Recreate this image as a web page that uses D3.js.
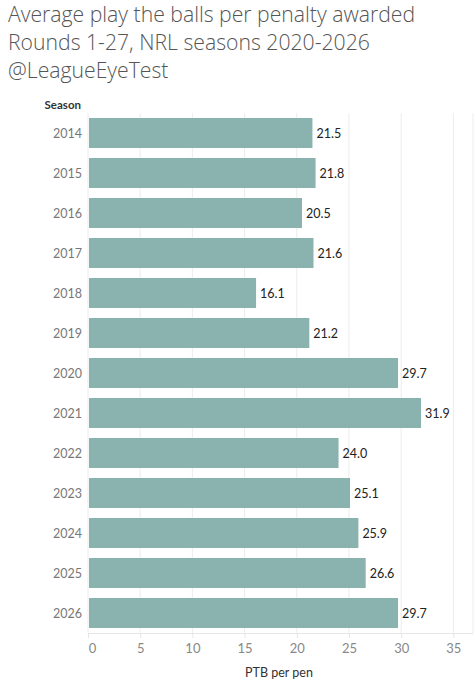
<!DOCTYPE html>
<html>
<head>
<meta charset="utf-8">
<script src="https://cdn.jsdelivr.net/npm/d3@7"></script>
<style>
  body { margin: 0; background: #fff; }
  svg { display: block; font-family: Lato, "Open Sans", sans-serif; }
</style>
</head>
<body>
<svg id="chart" width="475" height="693"></svg>
<script>
const titleLines = [
  'Average play the balls per penalty awarded',
  'Rounds 1-27, NRL seasons 2020-2026',
  '@LeagueEyeTest'
];
const seasons = ['2014', '2015', '2016', '2017', '2018', '2019', '2020',
  '2021', '2022', '2023', '2024', '2025', '2026'];
const ptbPerPen = [21.5, 21.8, 20.5, 21.6, 16.1, 21.2, 29.7,
  31.9, 24.0, 25.1, 25.9, 26.6, 29.7];
const xTicks = [0, 5, 10, 15, 20, 25, 30, 35];

const svg = d3.select('#chart');
const plotLeft = 88, plotRight = 473, plotTop = 113, plotBottom = 633;

svg.append('g')
  .selectAll('text')
  .data(titleLines)
  .join('text')
  .attr('x', 8)
  .attr('y', (d, i) => 22 + i * 28)
  .attr('font-family', '"Open Sans", sans-serif')
  .attr('font-weight', 300)
  .attr('font-size', 21.2)
  .attr('fill', '#555')
  .text(d => d);

const x = d3.scaleLinear().domain([0, 36.88]).range([plotLeft, plotRight]);
const y = d3.scaleBand().domain(seasons).range([plotTop, plotBottom]).paddingInner(0.25).paddingOuter(0.125);

// gridlines
svg.append('g')
  .selectAll('line')
  .data(xTicks.concat([36.88]))
  .join('line')
  .attr('x1', d => x(d)).attr('x2', d => x(d))
  .attr('y1', plotTop).attr('y2', plotBottom)
  .attr('stroke', '#ececec')
  .attr('stroke-width', 1);

svg.append('line')
  .attr('x1', plotLeft).attr('x2', plotRight)
  .attr('y1', plotBottom + 0.5).attr('y2', plotBottom + 0.5)
  .attr('stroke', '#e6e6e6');

svg.append('g')
  .selectAll('rect')
  .data(seasons)
  .join('rect')
  .attr('x', x(0) + 1)
  .attr('y', d => y(d))
  .attr('width', (d, i) => x(ptbPerPen[i]) - x(0) - 1)
  .attr('height', y.bandwidth())
  .attr('fill', '#8ab3af');

svg.append('g')
  .selectAll('text')
  .data(seasons)
  .join('text')
  .attr('x', (d, i) => x(ptbPerPen[i]) + 4)
  .attr('y', d => y(d) + y.bandwidth() / 2 + 4.5)
  .attr('font-size', 12.5)
  .attr('fill', '#222')
  .text((d, i) => ptbPerPen[i].toFixed(1));

// season labels
svg.append('g')
  .selectAll('text')
  .data(seasons)
  .join('text')
  .attr('x', 82)
  .attr('y', d => y(d) + y.bandwidth() / 2 + 4.5)
  .attr('text-anchor', 'end')
  .attr('font-size', 12.5)
  .attr('fill', '#777')
  .text(d => d);

svg.append('text')
  .attr('x', 81).attr('y', 109)
  .attr('text-anchor', 'end')
  .attr('font-size', 11.5)
  .attr('font-weight', 'bold')
  .attr('fill', '#333')
  .text('Season');

const xAxis = svg.append('g')
  .attr('transform', `translate(0,${plotBottom})`)
  .call(d3.axisBottom(x).tickValues(xTicks).tickSize(5).tickPadding(6));
xAxis.select('.domain').remove();
xAxis.selectAll('line').attr('stroke', '#e6e6e6');
xAxis.selectAll('text')
  .attr('font-size', 13)
  .attr('fill', '#888')
  .attr('font-family', 'Lato, "Open Sans", sans-serif')
  .attr('dx', d => d === 0 ? 4 : 0);

svg.append('text')
  .attr('x', 279).attr('y', 677)
  .attr('text-anchor', 'middle')
  .attr('font-size', 12.5)
  .attr('fill', '#333')
  .text('PTB per pen');
</script>
</body>
</html>
